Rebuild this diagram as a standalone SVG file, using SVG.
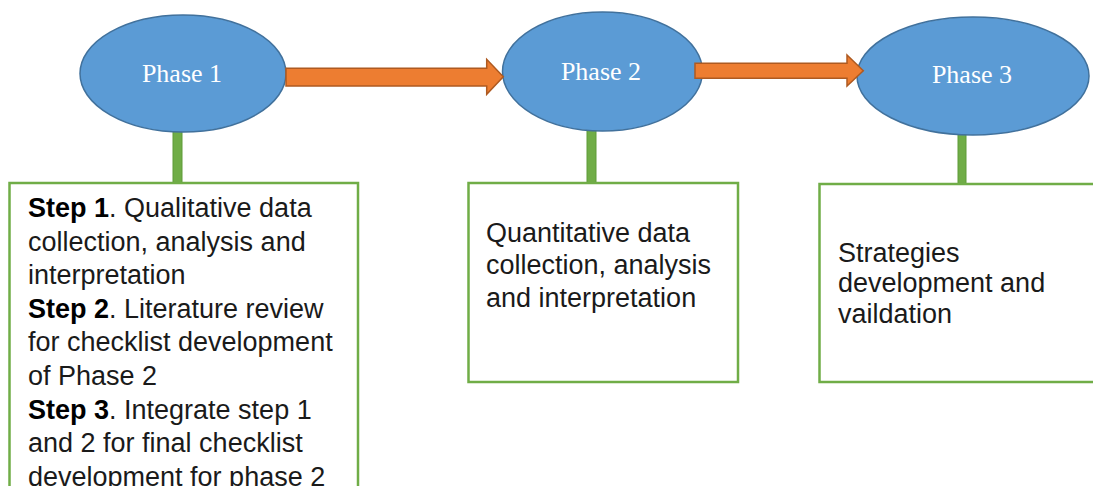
<svg xmlns="http://www.w3.org/2000/svg" width="1093" height="486" viewBox="0 0 1093 486">
<defs>
<style>
.phase{fill:#5B9BD5;stroke:#41719C;stroke-width:1.5}
.plabel{font-family:"Liberation Serif",serif;font-size:26px;fill:#ffffff;text-anchor:middle}
.arrow{fill:#ED7D31;stroke:#AE5A21;stroke-width:1.5}
.stem{fill:#70AD47;stroke:#5E9B38;stroke-width:1}
.box{fill:#ffffff;stroke:#70AD47;stroke-width:2.5}
.body{font-family:"Liberation Sans",Arial,sans-serif;font-size:27px;fill:#1a1a1a}
.b{font-weight:bold;fill:#000}
</style>
</defs>
<rect width="1093" height="486" fill="#ffffff"/>
<g id="stems">
<rect class="stem" x="173" y="130" width="9" height="53"/>
<rect class="stem" x="587" y="129" width="9" height="54"/>
<rect class="stem" x="958" y="133" width="8" height="51"/>
</g>
<g id="phase1">
<ellipse class="phase" cx="183" cy="73.5" rx="103" ry="58.5"/>
<text class="plabel" x="182" y="82">Phase 1</text>
</g>
<g id="phase2">
<ellipse class="phase" cx="602.5" cy="71.5" rx="100" ry="59.5"/>
<text class="plabel" x="601" y="80">Phase 2</text>
</g>
<g id="phase3">
<ellipse class="phase" cx="973" cy="76" rx="116" ry="59"/>
<text class="plabel" x="972" y="83">Phase 3</text>
</g>
<g id="connectors">
<polygon class="arrow" points="286,68.3 486.7,68.3 486.7,59.3 503.3,76.7 486.7,94.3 486.7,86 286,86"/>
<polygon class="arrow" points="695,63.3 847,63.3 847,55 863.3,70.7 847,86 847,78.3 695,78.3"/>
</g>
<g id="box1">
<rect class="box" x="9.5" y="183" width="348.5" height="320"/>
<text class="body" x="28" y="217"><tspan class="b">Step 1</tspan>. Qualitative data</text>
<text class="body" x="28" y="250.6">collection, analysis and</text>
<text class="body" x="28" y="284.2">interpretation</text>
<text class="body" x="28" y="317.8"><tspan class="b">Step 2</tspan>. Literature review</text>
<text class="body" x="28" y="351.4">for checklist development</text>
<text class="body" x="28" y="385">of Phase 2</text>
<text class="body" x="28" y="418.6"><tspan class="b">Step 3</tspan>. Integrate step 1</text>
<text class="body" x="28" y="452.2">and 2 for final checklist</text>
<text class="body" x="28" y="485.8">development for phase 2</text>
</g>
<g id="box2">
<rect class="box" x="468.5" y="183" width="269.5" height="199"/>
<text class="body" x="486" y="241.7">Quantitative data</text>
<text class="body" x="486" y="274.2">collection, analysis</text>
<text class="body" x="486" y="306.7">and interpretation</text>
</g>
<g id="box3">
<rect class="box" x="819.5" y="184" width="290" height="198"/>
<text class="body" x="838" y="261.7">Strategies</text>
<text class="body" x="838" y="292.2">development and</text>
<text class="body" x="838" y="322.7">vaildation</text>
</g>
</svg>
